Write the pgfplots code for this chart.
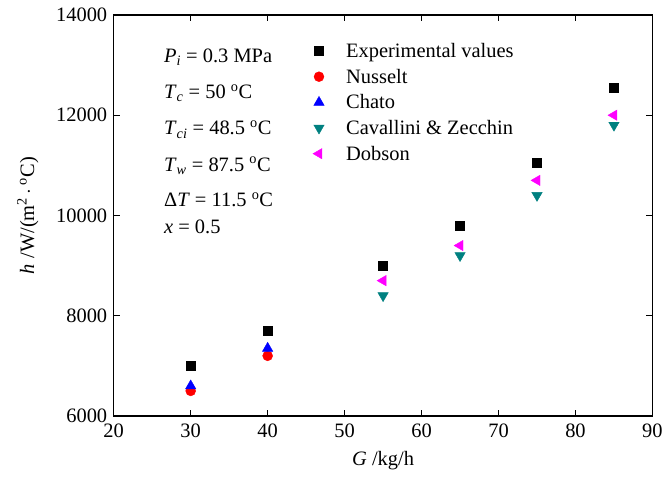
\documentclass[border=0pt]{standalone}
\usepackage{pgfplots}
\pgfplotsset{compat=1.18}
\usepackage{fontspec}
\setmainfont{Liberation Serif}
\definecolor{cteal}{RGB}{0,128,128}
\definecolor{cmag}{RGB}{255,0,255}
\definecolor{cred}{RGB}{255,0,0}
\definecolor{cblue}{RGB}{0,0,255}
\begin{document}
\begin{tikzpicture}[x=1pt,y=1pt]
\begin{axis}[
  scale only axis,
  width=540pt, height=402pt,
  xmin=20, xmax=90, ymin=6000, ymax=14000,
  xtick={20,30,...,90}, ytick={6000,8000,...,14000},
  scaled y ticks=false,
  tick align=inside,
  major tick length=6pt,
  axis line style={line width=1.2pt},
  every tick/.style={line width=1pt, black},
  /pgf/number format/assume math mode=true,
  /pgf/number format/1000 sep={},
  tick label style={font=\fontsize{20.5}{23}\selectfont},
  xticklabel style={yshift=-4pt},
  yticklabel style={xshift=-3pt},
  xlabel={\textit{G} /kg/h},
  ylabel={\textit{h} /W/(m\textsuperscript{2}\,$\cdot$\,\textsuperscript{o}C)},
  every axis x label/.append style={at={(rel axis cs:0.5,0)}, anchor=center, yshift=-45pt, font=\fontsize{20.5}{23}\selectfont},
  every axis y label/.style={at={(rel axis cs:0,0.5)}, anchor=center, rotate=90, yshift=86pt, font=\fontsize{20.5}{23}\selectfont},
  legend style={draw=none, fill=none, at={(rel axis cs:0.364,0.94)}, anchor=north west,
    font=\fontsize{20.5}{23}\selectfont, row sep=6pt, legend cell align=left},
  clip=false,
]
\addplot[only marks, mark=square*, mark size=4.5pt, mark options={fill=black, draw=black}]
  coordinates {(30,7000) (40,7700) (55,9000) (65,9800) (75,11050) (85,12550)};
\addlegendentry{\hspace{20pt}Experimental values}
\addplot[only marks, mark=*, mark size=5pt, mark options={fill=cred, draw=cred}]
  coordinates {(30,6500) (40,7200)};
\addlegendentry{\hspace{20pt}Nusselt}
\addplot[only marks, mark=triangle*, mark size=6pt, mark options={fill=cblue, draw=cblue}]
  coordinates {(30,6600) (40,7350)};
\addlegendentry{\hspace{20pt}Chato}
\addplot[only marks, mark=triangle*, mark size=6pt, mark options={fill=cteal, draw=cteal, rotate=180}]
  coordinates {(55,8400) (65,9200) (75,10400) (85,11800)};
\addlegendentry{\hspace{20pt}Cavallini \& Zecchin}
\addplot[only marks, mark=triangle*, mark size=6pt, mark options={fill=cmag, draw=cmag, rotate=90}]
  coordinates {(55,8700) (65,9400) (75,10700) (85,12000)};
\addlegendentry{\hspace{20pt}Dobson}
\node[anchor=north west, align=left, font=\fontsize{20.5}{27}\selectfont] at (rel axis cs:0.087,0.925)
  {\textit{P}\textsubscript{\textit{i}} = 0.3 MPa\\[9.5pt]
   \textit{T}\textsubscript{\textit{c}} = 50 \textsuperscript{o}C\\[9.5pt]
   \textit{T}\textsubscript{\textit{ci}} = 48.5 \textsuperscript{o}C\\[9.5pt]
   \textit{T}\textsubscript{\textit{w}} = 87.5 \textsuperscript{o}C\\[8.5pt]
   Δ\textit{T} = 11.5 \textsuperscript{o}C\\
   \textit{x} = 0.5};
\useasboundingbox (rel axis cs:-0.2111,-0.1642) rectangle (rel axis cs:1.0222,1.0373);
\end{axis}
\end{tikzpicture}
\end{document}
